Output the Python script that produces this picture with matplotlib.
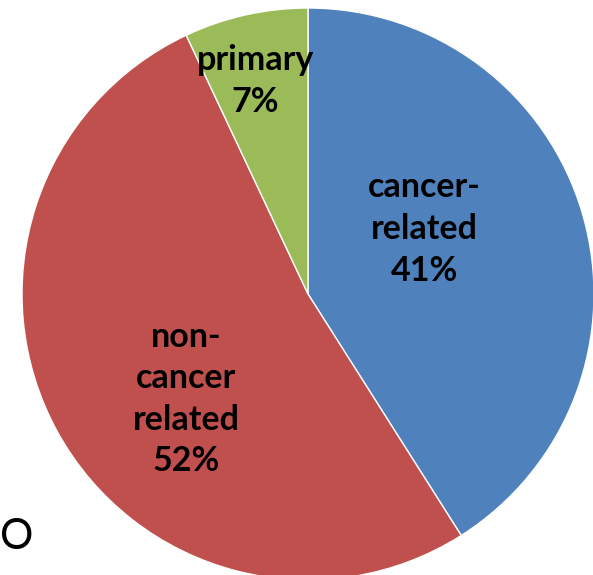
import matplotlib
matplotlib.use("Agg")
import matplotlib.pyplot as plt

categories = ["cancer-\nrelated", "non-\ncancer\nrelated", "primary"]
values = [41, 52, 7]
colors = ["#4F81BD", "#C0504D", "#9BBB59"]
# label anchor positions in unit-radius pie coordinates
label_pos = [(0.406, 0.227), (-0.427, -0.367), (-0.185, 0.745)]

W, H = 593, 575
fig = plt.figure(figsize=(W / 100, H / 100), dpi=100)
cx, cy, r = 308, 575 - 294, 286
ax = fig.add_axes([(cx - r) / W, (cy - r) / H, 2 * r / W, 2 * r / H])
wedges, _ = ax.pie(values, colors=colors, startangle=90, counterclock=False,
                   radius=1.0, wedgeprops=dict(edgecolor="white", linewidth=1))
ax.set_xlim(-1, 1)
ax.set_ylim(-1, 1)
ax.set_aspect("equal")
ax.axis("off")
for w in wedges:
    w.set_clip_on(False)

for cat, v, (x, y) in zip(categories, values, label_pos):
    ax.text(x, y, f"{cat}\n{v}%", ha="center", va="center", fontsize=24.5,
            fontweight="bold", family="Lato", linespacing=1.37, color="black")

fig.text(0.5 / W, 1 - 537 / H, "O", ha="left", va="center", fontsize=30,
         family="Lato", color="black")

fig.savefig("out.png", dpi=100)
